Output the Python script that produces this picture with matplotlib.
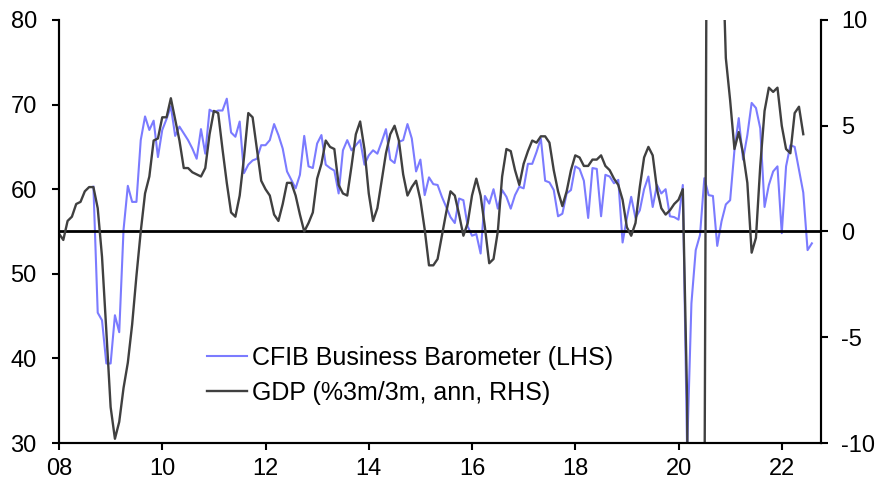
"""
CFIB Business Barometer vs GDP (%3m/3m, ann)
"""

import matplotlib
matplotlib.use("Agg")
import matplotlib.pyplot as plt
import numpy as np

plt.rcParams['font.family'] = ['Liberation Sans', 'DejaVu Sans']
plt.rcParams['axes.unicode_minus'] = False

# 月度數據 - GDP (%3m/3m 年化), 2008年1月起
gdp = [
    -0.1, -0.4, 0.5, 0.7, 1.3, 1.4, 1.9, 2.1, 2.1, 1.1, -1.2, -4.7,      # 2008
    -8.3, -9.8, -9.0, -7.4, -6.2, -4.4, -2.1, 0.0, 1.8, 2.6, 4.3, 4.4,    # 2009
    5.4, 5.4, 6.3, 5.3, 4.3, 3.0, 3.0, 2.8, 2.7, 2.6, 3.0, 4.6,           # 2010
    5.7, 5.6, 3.9, 2.3, 0.9, 0.7, 1.7, 3.5, 5.6, 5.4, 3.9, 2.4,           # 2011
    2.0, 1.7, 0.8, 0.5, 1.3, 2.3, 2.3, 1.7, 0.8, 0.0, 0.4, 0.9,           # 2012
    2.5, 3.2, 4.3, 4.0, 3.9, 2.2, 1.8, 1.7, 3.1, 4.6, 5.2, 3.9,           # 2013
    1.8, 0.5, 1.1, 2.4, 3.7, 4.6, 5.0, 4.3, 2.7, 1.7, 2.1, 2.4,           # 2014
    1.5, 0.1, -1.6, -1.6, -1.3, -0.2, 0.9, 1.9, 1.7, 0.8, -0.2, 0.4,      # 2015
    1.7, 2.5, 1.7, 0.2, -1.5, -1.3, 0.0, 2.6, 3.9, 3.8, 2.9, 2.2,         # 2016
    3.2, 3.8, 4.3, 4.2, 4.5, 4.5, 4.2, 2.9, 1.9, 1.2, 1.9, 2.9,           # 2017
    3.6, 3.5, 3.1, 3.1, 3.4, 3.4, 3.6, 3.1, 2.9, 2.5, 2.2, 1.5,           # 2018
    0.2, -0.2, 0.4, 2.1, 3.5, 4.0, 3.6, 2.0, 1.1, 0.8, 1.0, 1.3,          # 2019
    1.5, 2.0, -8.0, -45.0, -50.0, -40.0, -15.0, 40.0, 40.0, 30.0, 15.0, 8.2,  # 2020
    6.2, 3.9, 4.7, 3.7, 2.3, -1.0, -0.3, 3.1, 5.7, 6.8, 6.6, 6.8,         # 2021
    5.0, 3.9, 3.7, 5.6, 5.9, 4.6,                                         # 2022
]

# CFIB Business Barometer, 2008年9月起
cfib = [
    60.3, 45.4, 44.5, 39.4,                                               # 2008
    39.4, 45.1, 43.1, 55.2, 60.4, 58.5, 58.5, 65.8, 68.6, 67.0, 68.1, 63.8,  # 2009
    67.0, 68.3, 69.8, 66.3, 67.4, 66.6, 65.8, 64.8, 63.6, 67.1, 64.2, 69.4,  # 2010
    69.1, 69.3, 69.3, 70.7, 66.7, 66.2, 68.0, 61.9, 62.9, 63.4, 63.6, 65.2,  # 2011
    65.2, 65.8, 67.7, 66.4, 64.8, 62.1, 61.1, 60.1, 61.7, 66.3, 62.7, 62.5,  # 2012
    65.4, 66.4, 62.9, 62.5, 62.2, 59.5, 64.6, 65.8, 64.6, 65.2, 65.8, 62.9,  # 2013
    64.0, 64.6, 64.2, 65.6, 67.1, 63.5, 63.1, 65.6, 65.8, 67.7, 66.0, 62.1,  # 2014
    63.5, 59.3, 61.4, 60.6, 60.5, 59.1, 57.9, 56.7, 56.0, 58.9, 58.7, 55.6,  # 2015
    54.5, 54.7, 52.4, 59.2, 58.3, 60.0, 57.7, 59.9, 59.1, 57.7, 59.3, 60.3,  # 2016
    60.1, 63.0, 63.0, 64.4, 66.0, 61.0, 60.8, 59.9, 56.8, 57.1, 59.5, 59.9,  # 2017
    62.7, 62.4, 61.0, 56.6, 62.5, 62.4, 56.8, 61.7, 61.5, 60.7, 61.1, 53.7,  # 2018
    56.6, 59.1, 56.6, 57.5, 60.0, 61.5, 57.9, 60.5, 59.5, 60.0, 56.8, 56.7,  # 2019
    56.4, 60.5, 29.0, 46.5, 52.8, 54.6, 61.3, 59.3, 59.2, 53.3, 56.2, 58.2,  # 2020
    58.7, 64.6, 68.4, 63.5, 66.4, 70.2, 69.6, 67.2, 57.9, 60.5, 62.1, 62.7,  # 2021
    54.8, 62.7, 65.2, 65.0, 62.3, 59.6, 52.8, 53.6,                       # 2022
]

cfib_label = 'CFIB Business Barometer (LHS)'
gdp_label = 'GDP (%3m/3m, ann, RHS)'
x_ticks = [2008, 2010, 2012, 2014, 2016, 2018, 2020, 2022]
x_ticklabels = ['08', '10', '12', '14', '16', '18', '20', '22']

BLUE = '#7b7bff'
DARK = '#404040'


def main():
    # 時間軸 (小數年份)
    t_gdp = 2008 + np.arange(len(gdp)) / 12
    t_cfib = 2008 + (8 + np.arange(len(cfib))) / 12

    fig = plt.figure(figsize=(8.85, 4.98), dpi=100)
    fig.patch.set_facecolor('white')
    ax = fig.add_axes([59 / 885, 55 / 498, 762 / 885, 423 / 498])
    ax2 = ax.twinx()

    # 繪製線條
    l1, = ax.plot(t_cfib, cfib, color=BLUE, lw=1.5, label=cfib_label)
    ax2.axhline(0, color='black', lw=2.0)
    l2, = ax2.plot(t_gdp, gdp, color=DARK, lw=1.7, label=gdp_label)

    # 軸設置
    ax.set_xlim(2008, 2022.76)
    ax.set_ylim(30, 80)
    ax.set_yticks(np.arange(30, 81, 10))
    ax2.set_ylim(-10, 10)
    ax2.set_yticks([-10, -5, 0, 5, 10])
    ax.set_xticks(x_ticks)
    ax.set_xticklabels(x_ticklabels)

    for a in (ax, ax2):
        a.spines['top'].set_visible(False)
        for s in ('left', 'right', 'bottom'):
            a.spines[s].set_linewidth(1.5)
        a.tick_params(labelsize=17, width=1.5, length=5)
    ax.tick_params(axis='y', pad=11)
    ax.tick_params(axis='x', pad=6)
    ax2.tick_params(axis='y', pad=9.5)

    # 圖例
    ax.legend(handles=[l1, l2], loc='center left', bbox_to_anchor=(0.194, 0.16),
              frameon=False, fontsize=18, handlelength=1.6, handletextpad=0.2,
              labelspacing=0.42, borderpad=0, borderaxespad=0)

    plt.savefig('out.png', dpi=100, facecolor='white')
    plt.close()


if __name__ == "__main__":
    main()
